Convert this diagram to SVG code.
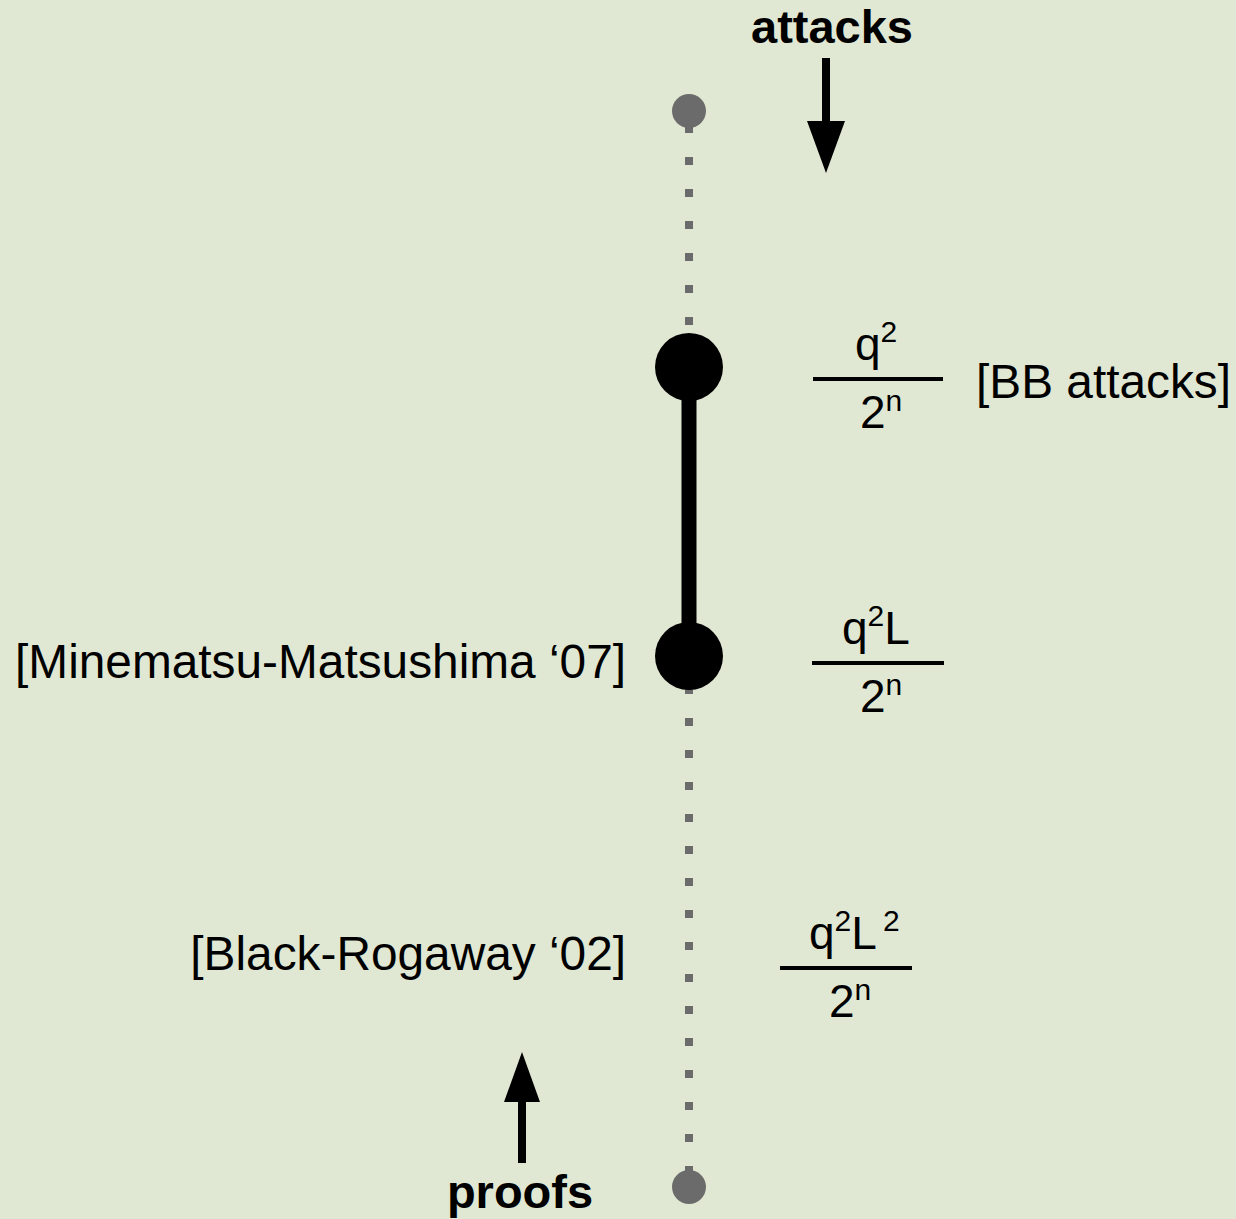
<svg xmlns="http://www.w3.org/2000/svg" width="1236" height="1219" viewBox="0 0 1236 1219">
<style>
.lbl{font-family:"Liberation Sans",Arial,sans-serif;font-size:47.8px;fill:#000}
.bold{font-family:"Liberation Sans",Arial,sans-serif;font-size:47px;font-weight:bold;fill:#000}
.fr{font-family:"Liberation Sans",Arial,sans-serif;font-size:46px;fill:#000}
.sup{font-size:30px}
.dot{stroke:#6b6b6b;stroke-width:8;stroke-dasharray:8 24;fill:none}
.bar{stroke:#000;stroke-width:4}
</style>
<rect width="1236" height="1219" fill="#e0e8d4"/>
<g id="connectors">
<line class="dot" x1="689" y1="125" x2="689" y2="368"/>
<line class="dot" x1="689" y1="686" x2="689" y2="1188"/>
<line x1="689" y1="367" x2="689" y2="656" stroke="#000" stroke-width="15"/>
<g id="attacks-arrow"><line x1="826" y1="58" x2="826" y2="125" stroke="#000" stroke-width="8"/><polygon points="807,121 845,121 826,173" fill="#000"/></g>
<g id="proofs-arrow"><line x1="522" y1="1163" x2="522" y2="1098" stroke="#000" stroke-width="8"/><polygon points="504,1102 540,1102 522,1052" fill="#000"/></g>
</g>
<g id="top-end"><circle cx="689" cy="111" r="17" fill="#6b6b6b"/></g>
<g id="bottom-end"><circle cx="689" cy="1187" r="17" fill="#6b6b6b"/></g>
<g id="node-bb"><circle cx="689" cy="367" r="34" fill="#000"/></g>
<g id="node-mm"><circle cx="689" cy="656" r="34" fill="#000"/></g>
<g id="label-attacks"><text class="bold" x="832" y="43" text-anchor="middle">attacks</text></g>
<g id="label-proofs"><text class="bold" x="520" y="1208" text-anchor="middle">proofs</text></g>
<g id="bound-bb">
<text class="fr" x="855" y="360">q<tspan class="sup" dy="-18">2</tspan></text>
<line class="bar" x1="813" y1="379" x2="943" y2="379"/>
<text class="fr" x="860" y="428">2<tspan class="sup" dy="-17">n</tspan></text>
<text class="lbl" x="976" y="398">[BB attacks]</text>
</g>
<g id="bound-mm">
<text class="fr" x="842" y="644">q<tspan class="sup" dy="-18">2</tspan><tspan dy="18">L</tspan></text>
<line class="bar" x1="812" y1="663" x2="944" y2="663"/>
<text class="fr" x="860" y="712">2<tspan class="sup" dy="-17">n</tspan></text>
<text class="lbl" x="626" y="678" text-anchor="end">[Minematsu-Matsushima ‘07]</text>
</g>
<g id="bound-br">
<text class="fr" x="809" y="949">q<tspan class="sup" dy="-18">2</tspan><tspan dy="18">L</tspan><tspan class="sup" dx="6" dy="-18">2</tspan></text>
<line class="bar" x1="780" y1="968" x2="912" y2="968"/>
<text class="fr" x="829" y="1017">2<tspan class="sup" dy="-17">n</tspan></text>
<text class="lbl" x="626" y="970" text-anchor="end">[Black-Rogaway ‘02]</text>
</g>
</svg>
